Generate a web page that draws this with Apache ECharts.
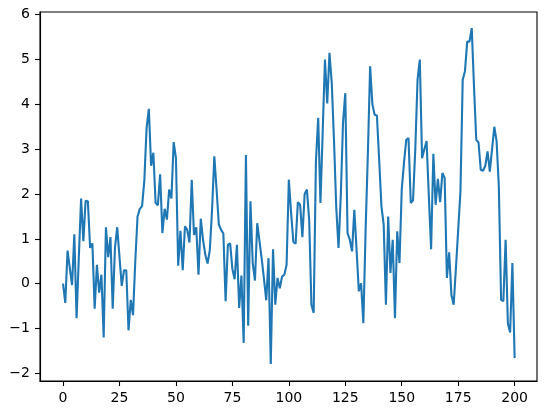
<!DOCTYPE html>
<html>
<head>
<meta charset="utf-8">
<script src="https://cdn.jsdelivr.net/npm/echarts@6/dist/echarts.min.js"></script>
<style>
html,body{margin:0;padding:0;background:#fff;}
#chart{width:546px;height:415px;}
</style>
</head>
<body>
<div id="chart"></div>
<script>
const values = [0.0,-0.43,0.74,0.35,-0.03,1.1,-0.77,0.6,1.9,0.95,
1.85,1.84,0.8,0.9,-0.56,0.42,-0.2,0.2,-1.2,1.26,
0.59,1.04,-0.56,0.8,1.26,0.6,-0.05,0.3,0.3,-1.04,
-0.36,-0.7,0.5,1.5,1.67,1.73,2.3,3.47,3.9,2.63,
2.92,1.8,1.75,2.44,1.13,1.67,1.43,2.1,1.9,3.16,
2.8,0.4,1.18,0.3,1.28,1.2,0.92,2.32,1.09,1.26,
0.2,1.45,0.98,0.65,0.45,0.75,1.65,2.84,2.1,1.32,
1.2,1.12,-0.39,0.87,0.9,0.33,0.1,0.87,-0.54,0.18,
-1.32,2.87,-0.94,1.84,0.46,0.07,1.35,0.95,0.55,0.1,
-0.37,0.57,-1.79,0.77,-0.47,0.13,-0.1,0.16,0.2,0.42,
2.32,1.58,0.93,0.89,1.82,1.76,1.04,2.0,2.1,1.43,
-0.47,-0.65,2.73,3.7,1.8,3.4,5.0,4.02,5.15,4.48,
3.2,1.7,0.8,1.95,3.6,4.25,1.13,0.98,0.72,1.65,
0.75,-0.17,0.01,-0.88,1.2,2.9,4.85,4.0,3.77,3.75,
2.77,1.73,1.32,-0.47,1.5,0.24,0.98,-0.77,1.17,0.46,
2.1,2.7,3.21,3.25,1.8,1.86,3.0,4.55,5.0,2.8,
3.0,3.18,1.95,0.77,2.9,1.76,2.34,1.82,2.47,2.36,
0.13,0.7,-0.25,-0.47,0.35,1.2,2.06,4.55,4.74,5.4,
5.4,5.7,4.4,3.21,3.15,2.54,2.52,2.63,2.95,2.5,
3.0,3.5,3.18,2.17,-0.36,-0.39,0.98,-0.88,-1.09,0.46,
-1.66];
const xTicks = [0, 25, 50, 75, 100, 125, 150, 175, 200];
const yTicks = [-2, -1, 0, 1, 2, 3, 4, 5, 6];

const data = values.map((v, i) => [i, v]);
const fmt = v => String(v).replace('-', '\u2212');
const chart = echarts.init(document.getElementById('chart'), null, {renderer: 'canvas'});
chart.setOption({
  animation: false,
  grid: {left: 40, top: 12, width: 497, height: 369, show: true, borderColor: '#000', borderWidth: 1.1, containLabel: false},
  xAxis: {
    type: 'value', min: -10.2, max: 209.9,
    axisLine: {show: true, onZero: false, lineStyle: {color: '#000', width: 1.1}},
    axisTick: {show: true, length: 5, lineStyle: {color: '#000', width: 1.1}, customValues: xTicks},
    axisLabel: {customValues: xTicks, formatter: fmt, color: '#000', fontSize: 14, fontFamily: 'DejaVu Sans', margin: 10},
    splitLine: {show: false}
  },
  yAxis: {
    type: 'value', min: -2.17, max: 6.06,
    axisLine: {show: true, onZero: false, lineStyle: {color: '#000', width: 1.1}},
    axisTick: {show: true, length: 5, lineStyle: {color: '#000', width: 1.1}, customValues: yTicks},
    axisLabel: {customValues: yTicks, formatter: fmt, color: '#000', fontSize: 14, fontFamily: 'DejaVu Sans', margin: 10},
    splitLine: {show: false}
  },
  series: [{
    type: 'line', data: data, showSymbol: false, symbol: 'none',
    lineStyle: {color: '#1f77b4', width: 2.1}, itemStyle: {color: '#1f77b4'}
  }]
});
</script>
</body>
</html>
